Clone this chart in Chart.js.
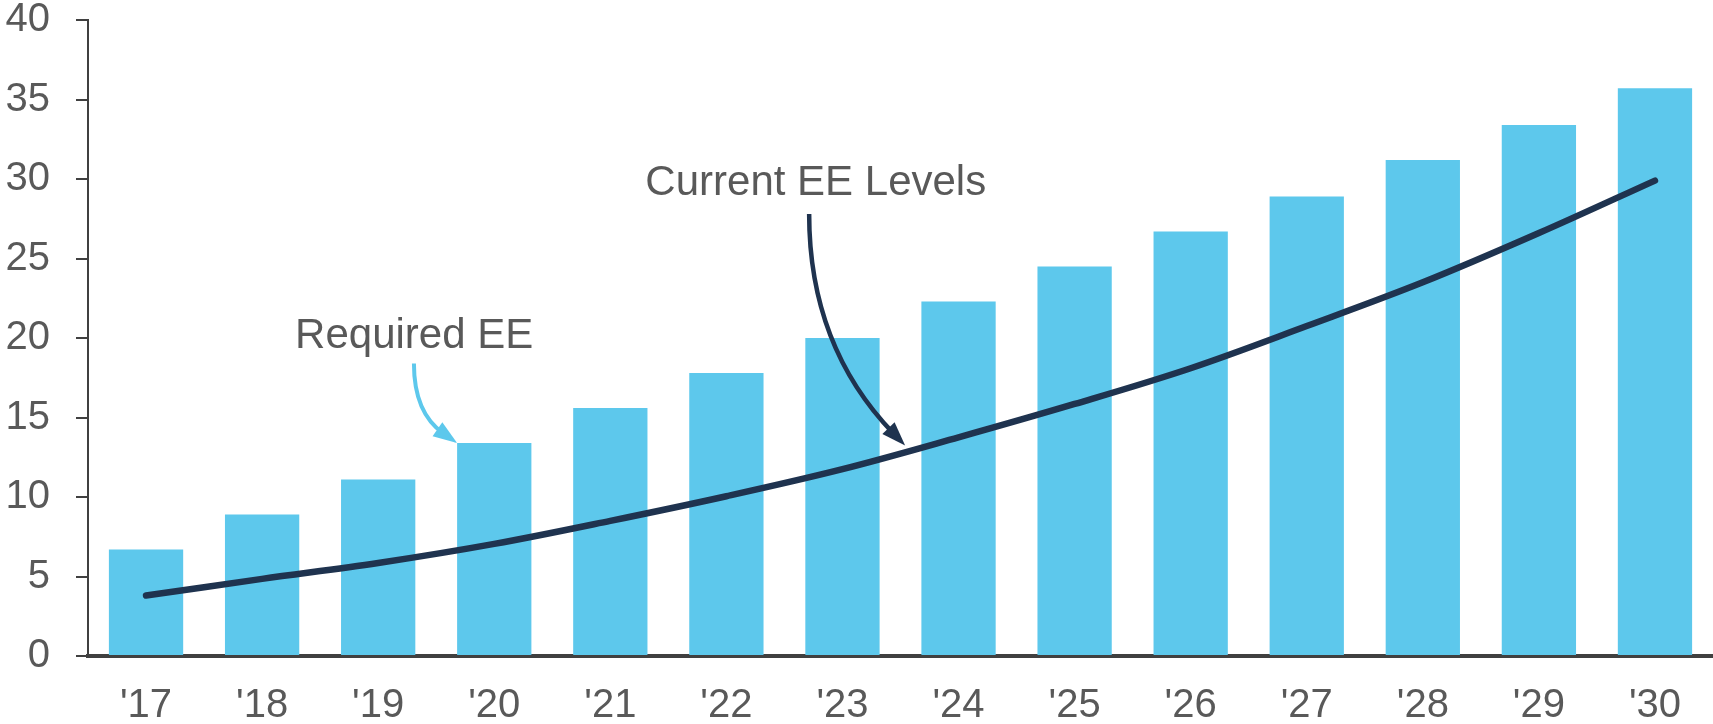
<!DOCTYPE html>
<html>
<head>
<meta charset="utf-8">
<script src="https://cdn.jsdelivr.net/npm/chart.js@4"></script>
<style>
  html, body { margin: 0; padding: 0; background: #fff; }
  #wrap { width: 1713px; height: 724px; }
</style>
</head>
<body>
<div id="wrap"><canvas id="ee-chart"></canvas></div>
<script>
const YEARS = ["'17", "'18", "'19", "'20", "'21", "'22", "'23", "'24", "'25", "'26", "'27", "'28", "'29", "'30"];
const REQUIRED_EE = [6.7, 8.9, 11.1, 13.4, 15.6, 17.8, 20.0, 22.3, 24.5, 26.7, 28.9, 31.2, 33.4, 35.7];
const CURRENT_EE = [3.8, 4.85, 5.85, 7.05, 8.5, 10.05, 11.75, 13.75, 15.85, 18.1, 20.75, 23.5, 26.6, 29.9];

const BAR_BLUE = '#5DC8EC';
const NAVY = '#1F334F';
const TEXT_GRAY = '#595959';
const AXIS_GRAY = '#404040';
const FONT = '"Liberation Sans", Arial, sans-serif';

// callouts, positioned in data units (category index, value)
const callouts = [
  {
    text: 'Required EE', color: BAR_BLUE, width: 4, headLen: 24, headW: 17,
    label: [2.31, 19.4],
    from: [2.308, 18.4], ctrl: [2.308, 15.3], to: [3 - 0.32, REQUIRED_EE[3]],
  },
  {
    text: 'Current EE Levels', color: NAVY, width: 4.5, headLen: 24, headW: 17,
    label: [5.77, 29.0],
    from: [5.713, 27.8], ctrl: [5.713, 19.5], to: [6.54, 13.24],
  },
];

const calloutPlugin = {
  id: 'callouts',
  afterDatasetsDraw(chart) {
    const { ctx, scales: { x, y } } = chart;
    const px = p => [x.getPixelForValue(0) + p[0] * (x.getPixelForValue(1) - x.getPixelForValue(0)), y.getPixelForValue(p[1])];
    ctx.save();
    callouts.forEach(c => {
      const [lx, ly] = px(c.label);
      ctx.font = `42px ${FONT}`;
      ctx.fillStyle = TEXT_GRAY;
      ctx.textAlign = 'center';
      ctx.textBaseline = 'alphabetic';
      ctx.fillText(c.text, lx, ly);

      const p0 = px(c.from), p1 = px(c.ctrl), p2 = px(c.to);
      const dx = p2[0] - p1[0], dy = p2[1] - p1[1];
      const len = Math.hypot(dx, dy);
      const ux = dx / len, uy = dy / len;
      const end = [p2[0] - ux * c.headLen * 0.7, p2[1] - uy * c.headLen * 0.7];

      ctx.strokeStyle = c.color;
      ctx.lineWidth = c.width;
      ctx.lineCap = 'butt';
      ctx.beginPath();
      ctx.moveTo(p0[0], p0[1]);
      ctx.quadraticCurveTo(p1[0], p1[1], end[0], end[1]);
      ctx.stroke();

      const bx = p2[0] - ux * c.headLen, by = p2[1] - uy * c.headLen;
      ctx.fillStyle = c.color;
      ctx.beginPath();
      ctx.moveTo(p2[0], p2[1]);
      ctx.lineTo(bx - uy * c.headW / 2, by + ux * c.headW / 2);
      ctx.lineTo(bx + uy * c.headW / 2, by - ux * c.headW / 2);
      ctx.closePath();
      ctx.fill();
    });
    ctx.restore();
  },
};

Chart.defaults.font.family = FONT;
Chart.defaults.color = TEXT_GRAY;

new Chart(document.getElementById('ee-chart'), {
  type: 'bar',
  data: {
    labels: YEARS,
    datasets: [
      {
        type: 'line',
        label: 'Current EE Levels',
        data: CURRENT_EE,
        borderColor: NAVY,
        borderWidth: 6.5,
        borderCapStyle: 'round',
        pointRadius: 0,
        tension: 0.35,
        fill: false,
        order: 0,
      },
      {
        label: 'Required EE',
        data: REQUIRED_EE,
        backgroundColor: BAR_BLUE,
        categoryPercentage: 1,
        barPercentage: 0.64,
        order: 1,
      },
    ],
  },
  options: {
    responsive: true,
    maintainAspectRatio: false,
    animation: false,
    layout: { padding: { top: 20, right: 0, left: 0, bottom: 0 } },
    plugins: {
      legend: { display: false },
      tooltip: { enabled: false },
    },
    scales: {
      x: {
        grid: { display: false },
        border: { display: true, color: AXIS_GRAY, width: 4 },
        ticks: { color: TEXT_GRAY, font: { size: 40 }, padding: 18, maxRotation: 0 },
        afterFit: (s) => { s.height = 68; s.paddingLeft = 0; s.paddingRight = 0; },
      },
      y: {
        min: 0,
        max: 40,
        ticks: { stepSize: 5, color: TEXT_GRAY, font: { size: 40 }, padding: 26 },
        grid: { drawOnChartArea: false, drawTicks: true, tickLength: 12, color: AXIS_GRAY, lineWidth: 2 },
        border: { display: true, color: AXIS_GRAY, width: 2 },
        afterFit: (s) => { s.width = 88; s.paddingTop = 0; s.paddingBottom = 0; },
      },
    },
  },
  plugins: [calloutPlugin],
});
</script>
</body>
</html>
